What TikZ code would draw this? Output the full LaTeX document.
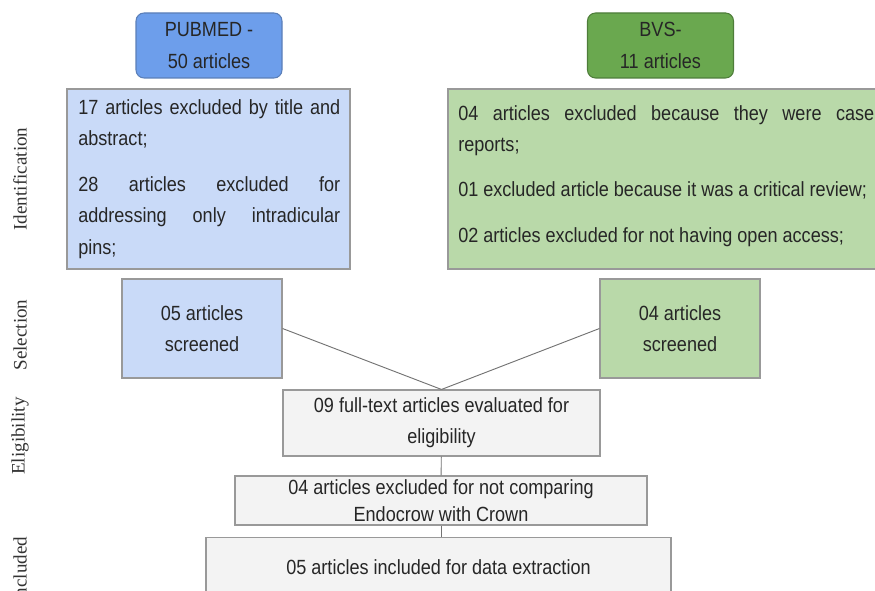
\documentclass[tikz,border=0pt]{standalone}
\usepackage{fontspec}
\setmainfont[FakeStretch=0.88]{Liberation Sans}
\newfontfamily\stagefont{Liberation Serif}
\usepackage{xcolor}
\usetikzlibrary{positioning}

\definecolor{pubblue}{HTML}{6D9EEB}
\definecolor{publine}{HTML}{5B7FB8}
\definecolor{bvsgreen}{HTML}{6AA84F}
\definecolor{bvsline}{HTML}{4E7D3A}
\definecolor{lightblue}{HTML}{C9DAF8}
\definecolor{lightgreen}{HTML}{B9D9A9}
\definecolor{boxgray}{HTML}{F3F3F3}
\definecolor{edgegray}{HTML}{999999}

\begin{document}
\begin{tikzpicture}[x=0.75pt, y=-0.75pt,
    every node/.style={inner sep=0pt, text=black!85, font=\fontsize{15.4}{23.5}\selectfont},
    source/.style={draw, rounded corners=6pt, line width=0.8pt, align=center,
      minimum width=109.5pt, minimum height=48.75pt},
    notebox/.style={draw=edgegray, line width=0.8pt},
    notetext/.style={align=justify, anchor=north west,
      execute at begin node={\hyphenpenalty=10000\exhyphenpenalty=10000}},
    flowbox/.style={draw=edgegray, line width=0.8pt, fill=boxgray, align=center},
    stage/.style={rotate=90, text=black!80, font=\stagefont\fontsize{14.3}{16}\selectfont},
    link/.style={draw=black!55, line width=0.7pt}]
  \useasboundingbox (0,0) rectangle (875,591);

  % Stage labels
  \node[stage] (ident) at (20,179) {Identification};
  \node[stage] (select) at (20,335) {Selection};
  \node[stage] (elig) at (20,436) {Eligibility};
  \node[stage] (incl) at (20,570) {Included};

  % Databases
  \node[source, fill=pubblue, draw=publine] (pubmed) at (209,45.5) {PUBMED -\\50 articles};
  \node[source, fill=bvsgreen, draw=bvsline] (bvs) at (660.5,45.5) {BVS-\\11 articles};

  % Exclusions per database
  \node[notebox, fill=lightblue, minimum width=212.25pt, minimum height=135pt] (pubexcl) at (208.5,179) {};
  \node[notetext, text width=196.5pt] (pubtext) at (78,99)
    {17 articles excluded by title and abstract;\\[11pt]
     28 articles excluded for addressing only intradicular pins;};
  \node[notebox, fill=lightgreen, minimum width=324pt, minimum height=135pt] (bvsexcl) at (664,179) {};
  \node[notetext, text width=312pt] (bvstext) at (458,105)
    {04 articles excluded because they were case\linebreak reports;\\[10pt]
     01 excluded article because it was a critical review;\\[11pt]
     02 articles excluded for not having open access;};

  % Screened
  \node[notebox, fill=lightblue, align=center, minimum width=120pt, minimum height=74.25pt] (pubsel) at (202,328.5) {05 articles\\screened};
  \node[notebox, fill=lightgreen, align=center, minimum width=120pt, minimum height=74.25pt] (bvssel) at (680,328.5) {04 articles\\screened};

  % Flow
  \node[flowbox, minimum width=237.75pt, minimum height=49.5pt] (fulltext) at (441.5,423) {09 full-text articles evaluated for\\eligibility};
  \node[flowbox, minimum width=309pt, minimum height=36.75pt, font=\fontsize{15.4}{20}\selectfont] (notcomp) at (441,500.5) {04 articles excluded for not comparing\\Endocrow with Crown};
  \node[flowbox, minimum width=348.75pt, minimum height=45pt] (final) at (438.5,567.5) {05 articles included for data extraction};

  % Connections
  \draw[link] (pubsel.east) -- (fulltext.north);
  \draw[link] (bvssel.west) -- (fulltext.north);
  \draw[link] (fulltext) -- (notcomp);
  \draw[link] (notcomp.south) -- (notcomp.south |- final.north);
\end{tikzpicture}
\end{document}
